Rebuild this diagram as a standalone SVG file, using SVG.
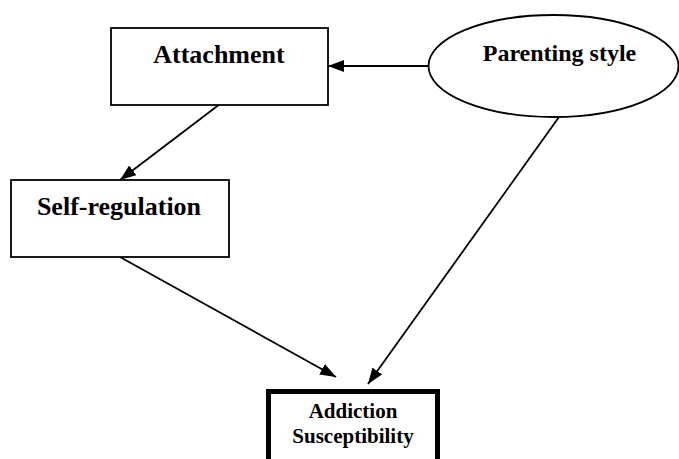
<svg xmlns="http://www.w3.org/2000/svg" width="679" height="459" viewBox="0 0 679 459">
<style>
.box{fill:#fff;stroke:#000;stroke-width:1.8}
.t{font-family:"Liberation Serif","Times New Roman",serif;font-weight:bold;fill:#000;text-anchor:middle}
.c{stroke:#000;stroke-width:1.8;fill:none;marker-end:url(#ah)}
</style>
<defs>
<marker id="ah" viewBox="0 0 16 12" refX="16" refY="6" markerWidth="16" markerHeight="12" markerUnits="userSpaceOnUse" orient="auto">
<path d="M0,0 L16,6 L0,12 Z" fill="#000"/>
</marker>
</defs>
<rect width="679" height="459" fill="#fff"/>
<g id="connectors">
<line class="c" x1="428" y1="66" x2="328" y2="66"/>
<line class="c" x1="220" y1="104" x2="120" y2="180"/>
<line class="c" x1="120" y1="257" x2="336" y2="377"/>
<line class="c" x1="559" y1="117" x2="368" y2="384"/>
</g>
<g id="attachment">
<rect class="box" x="111" y="28" width="217" height="77"/>
<text class="t" x="219" y="63" font-size="26">Attachment</text>
</g>
<g id="parenting">
<ellipse class="box" cx="553.5" cy="66" rx="125" ry="51"/>
<text class="t" x="559.5" y="61" font-size="24">Parenting style</text>
</g>
<g id="selfreg">
<rect class="box" x="11" y="180" width="218" height="77"/>
<text class="t" x="119" y="215" font-size="26">Self-regulation</text>
</g>
<g id="addiction">
<rect x="268.5" y="391.5" width="169" height="80" fill="#fff" stroke="#000" stroke-width="5"/>
<text class="t" x="353" y="418" font-size="21">Addiction</text>
<text class="t" x="353" y="443" font-size="21">Susceptibility</text>
</g>
</svg>
